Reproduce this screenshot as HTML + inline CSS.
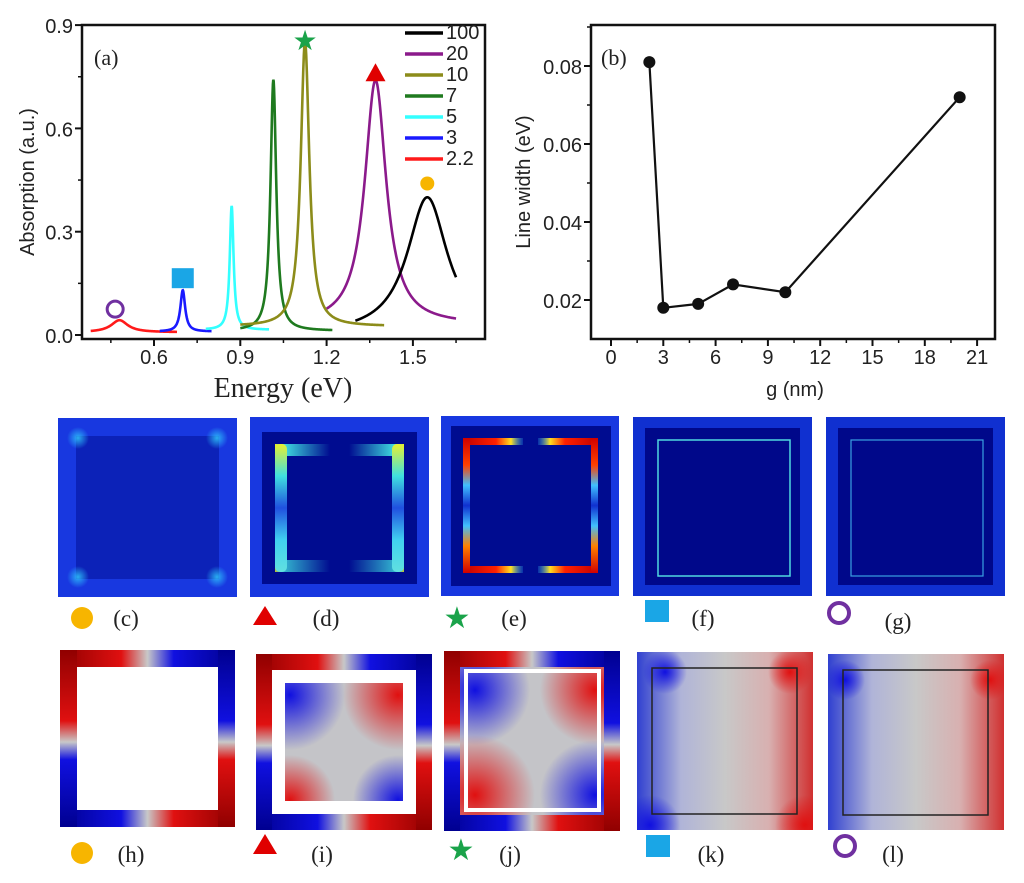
<!DOCTYPE html>
<html><head><meta charset="utf-8"><style>
body{margin:0;background:#fff;}
svg{display:block;}
.t{font-family:"Liberation Sans",sans-serif;font-size:20px;fill:#222;}
.s{font-family:"Liberation Serif",serif;fill:#222;}
</style></head><body>
<svg id="fig" width="1024" height="883" viewBox="0 0 1024 883" xmlns="http://www.w3.org/2000/svg">
<defs>
<radialGradient id="glow"><stop offset="0" stop-color="#30d0ff"/><stop offset="1" stop-color="#30d0ff" stop-opacity="0"/></radialGradient>
<linearGradient id="cyH" x1="0" x2="1"><stop offset="0" stop-color="#f0f020"/><stop offset="0.15" stop-color="#40e0e0"/><stop offset="1" stop-color="#40e0e0" stop-opacity="0"/></linearGradient>
<linearGradient id="cyHr" x1="1" x2="0"><stop offset="0" stop-color="#f0f020"/><stop offset="0.15" stop-color="#40e0e0"/><stop offset="1" stop-color="#40e0e0" stop-opacity="0"/></linearGradient>
<linearGradient id="cyV" x1="0" y1="0" x2="0" y2="1"><stop offset="0" stop-color="#e8f030"/><stop offset="0.25" stop-color="#40e0e0"/><stop offset="0.5" stop-color="#2050e0"/><stop offset="0.75" stop-color="#40d0f0"/><stop offset="1" stop-color="#60e0e0"/></linearGradient>
<linearGradient id="rdH" x1="0" x2="1"><stop offset="0" stop-color="#c00000"/><stop offset="0.55" stop-color="#ff2000"/><stop offset="0.8" stop-color="#ffe020"/><stop offset="1" stop-color="#30c0ff" stop-opacity="0.2"/></linearGradient>
<linearGradient id="rdHr" x1="1" x2="0"><stop offset="0" stop-color="#c00000"/><stop offset="0.55" stop-color="#ff2000"/><stop offset="0.8" stop-color="#ffe020"/><stop offset="1" stop-color="#30c0ff" stop-opacity="0.2"/></linearGradient>
<linearGradient id="rdV" x1="0" y1="0" x2="0" y2="1"><stop offset="0" stop-color="#d00000"/><stop offset="0.2" stop-color="#ff4000"/><stop offset="0.35" stop-color="#40c0ff"/><stop offset="0.5" stop-color="#1030d0"/><stop offset="0.65" stop-color="#40c0ff"/><stop offset="0.8" stop-color="#ff8000"/><stop offset="1" stop-color="#d00000"/></linearGradient>
<linearGradient id="rbH" x1="0" x2="1"><stop offset="0" stop-color="#900000"/><stop offset="0.35" stop-color="#e01010"/><stop offset="0.5" stop-color="#c8c8c8"/><stop offset="0.65" stop-color="#1010e0"/><stop offset="1" stop-color="#000090"/></linearGradient>
<linearGradient id="brH" x1="0" x2="1"><stop offset="0" stop-color="#000090"/><stop offset="0.35" stop-color="#1010e0"/><stop offset="0.5" stop-color="#c8c8c8"/><stop offset="0.65" stop-color="#e01010"/><stop offset="1" stop-color="#900000"/></linearGradient>
<linearGradient id="rbV" x1="0" y1="0" x2="0" y2="1"><stop offset="0" stop-color="#900000"/><stop offset="0.4" stop-color="#e01010"/><stop offset="0.52" stop-color="#c8c8c8"/><stop offset="0.62" stop-color="#1010e0"/><stop offset="1" stop-color="#000090"/></linearGradient>
<linearGradient id="brV" x1="0" y1="0" x2="0" y2="1"><stop offset="0" stop-color="#000090"/><stop offset="0.4" stop-color="#1010e0"/><stop offset="0.52" stop-color="#c8c8c8"/><stop offset="0.62" stop-color="#e01010"/><stop offset="1" stop-color="#900000"/></linearGradient>
<linearGradient id="gH" x1="0" x2="1"><stop offset="0" stop-color="#3040d0"/><stop offset="0.25" stop-color="#b0b4d8"/><stop offset="0.5" stop-color="#c8c8c8"/><stop offset="0.75" stop-color="#d8b0b0"/><stop offset="1" stop-color="#d03030"/></linearGradient>
<radialGradient id="bB"><stop offset="0" stop-color="#1010e0"/><stop offset="1" stop-color="#1010e0" stop-opacity="0"/></radialGradient>
<radialGradient id="rB"><stop offset="0" stop-color="#e01010"/><stop offset="1" stop-color="#e01010" stop-opacity="0"/></radialGradient>
<clipPath id="clipI"><rect x="285" y="683" width="118" height="118"/></clipPath>
<clipPath id="clipJ"><rect x="444" y="651" width="176" height="180"/></clipPath>
<clipPath id="clipK"><rect x="637" y="652" width="176" height="178"/></clipPath>
<clipPath id="clipL"><rect x="828" y="654" width="176" height="176"/></clipPath>
</defs>
<g id="chartA"></g>
<g id="chartB"></g>

<!-- top row field maps -->
<g>
<rect x="58" y="418" width="179" height="179" fill="#1838e0"/>
<rect x="76" y="436" width="143" height="143" fill="#0c22b8"/>
<circle cx="78" cy="438" r="11" fill="url(#glow)" opacity="0.8"/><circle cx="217" cy="438" r="11" fill="url(#glow)" opacity="0.8"/>
<circle cx="78" cy="577" r="11" fill="url(#glow)" opacity="0.8"/><circle cx="217" cy="577" r="11" fill="url(#glow)" opacity="0.8"/>
</g>
<g>
<rect x="250" y="417" width="179" height="180" fill="#1838e0"/>
<rect x="262" y="432" width="155" height="152" fill="#000c90"/>
<rect x="275" y="444" width="55" height="12" fill="url(#cyH)"/><rect x="349" y="444" width="55" height="12" fill="url(#cyHr)"/>
<rect x="275" y="560" width="55" height="12" fill="url(#cyH)" opacity="0.8"/><rect x="349" y="560" width="55" height="12" fill="url(#cyHr)" opacity="0.8"/>
<rect x="275" y="444" width="12" height="128" rx="5" fill="url(#cyV)"/><rect x="392" y="444" width="12" height="128" rx="5" fill="url(#cyV)"/>
</g>
<g>
<rect x="441" y="416" width="178" height="180" fill="#1838e0"/>
<rect x="451" y="426" width="160" height="160" fill="#000c90"/>
<rect x="463" y="438" width="60" height="7" fill="url(#rdH)"/><rect x="538" y="438" width="60" height="7" fill="url(#rdHr)"/>
<rect x="463" y="566" width="60" height="7" fill="url(#rdH)"/><rect x="538" y="566" width="60" height="7" fill="url(#rdHr)"/>
<rect x="463" y="438" width="7" height="135" fill="url(#rdV)"/><rect x="591" y="438" width="7" height="135" fill="url(#rdV)"/>
</g>
<g>
<rect x="633" y="417" width="179" height="179" fill="#1030d0"/>
<rect x="645" y="428" width="155" height="157" fill="#00088a"/>
<rect x="658" y="440" width="132" height="136" fill="none" stroke="#50d8e0" stroke-width="1.5"/>
</g>
<g>
<rect x="826" y="417" width="179" height="179" fill="#1030d0"/>
<rect x="838" y="428" width="155" height="157" fill="#00088a"/>
<rect x="851" y="440" width="132" height="136" fill="none" stroke="#3aa0e0" stroke-width="1.2"/>
</g>

<!-- bottom row charge maps -->
<g>
<rect x="60" y="650" width="175" height="17" fill="url(#rbH)"/>
<rect x="60" y="810" width="175" height="17" fill="url(#brH)"/>
<rect x="60" y="650" width="17" height="177" fill="url(#rbV)"/>
<rect x="218" y="650" width="17" height="177" fill="url(#brV)"/>
</g>
<g>
<rect x="256" y="654" width="176" height="16" fill="url(#rbH)"/>
<rect x="256" y="814" width="176" height="16" fill="url(#brH)"/>
<rect x="256" y="654" width="16" height="176" fill="url(#rbV)"/>
<rect x="416" y="654" width="16" height="176" fill="url(#brV)"/>
<rect x="285" y="683" width="118" height="118" fill="#c4c4c8"/>
<g clip-path="url(#clipI)">
<circle cx="290" cy="695" r="55" fill="url(#bB)"/><circle cx="398" cy="695" r="55" fill="url(#rB)"/>
<circle cx="290" cy="800" r="45" fill="url(#rB)"/><circle cx="398" cy="800" r="45" fill="url(#bB)"/>
</g>
</g>
<g>
<g clip-path="url(#clipJ)">
<rect x="444" y="651" width="176" height="180" fill="#c4c4c8"/>
<circle cx="475" cy="690" r="55" fill="url(#bB)"/><circle cx="595" cy="690" r="55" fill="url(#rB)"/>
<circle cx="475" cy="795" r="60" fill="url(#rB)"/><circle cx="595" cy="795" r="55" fill="url(#bB)"/>
</g>
<rect x="444" y="651" width="176" height="16" fill="url(#rbH)"/>
<rect x="444" y="815" width="176" height="16" fill="url(#brH)"/>
<rect x="444" y="651" width="16" height="180" fill="url(#rbV)"/>
<rect x="604" y="651" width="16" height="180" fill="url(#brV)"/>
<rect x="466" y="671" width="133" height="139" fill="none" stroke="#fff" stroke-width="4"/>
</g>
<g>
<rect x="637" y="652" width="176" height="178" fill="url(#gH)"/>
<g clip-path="url(#clipK)">
<circle cx="650" cy="825" r="30" fill="url(#bB)"/><circle cx="805" cy="825" r="30" fill="url(#rB)"/>
<circle cx="665" cy="672" r="22" fill="url(#bB)"/><circle cx="790" cy="672" r="22" fill="url(#rB)"/>
</g>
<rect x="652" y="668" width="145" height="146" fill="none" stroke="#222" stroke-width="1.5"/>
</g>
<g>
<rect x="828" y="654" width="176" height="176" fill="url(#gH)"/>
<g clip-path="url(#clipL)">
<circle cx="845" cy="680" r="20" fill="url(#bB)"/><circle cx="990" cy="680" r="20" fill="url(#rB)"/>
</g>
<rect x="843" y="670" width="145" height="145" fill="none" stroke="#222" stroke-width="1.5"/>
</g>

<!-- panel labels with markers -->
<circle cx="82" cy="618" r="11" fill="#f7b500"/>
<text class="s" x="126" y="626" font-size="23" text-anchor="middle">(c)</text>
<polygon points="265,606 277,625 253,625" fill="#e00000"/>
<text class="s" x="326" y="626" font-size="23" text-anchor="middle">(d)</text>
<text x="457" y="628" font-size="30" fill="#1aa34a" text-anchor="middle" font-family="DejaVu Sans">★</text>
<text class="s" x="514" y="626" font-size="23" text-anchor="middle">(e)</text>
<rect x="645" y="600" width="24" height="22" fill="#1aa6e6"/>
<text class="s" x="703" y="626" font-size="23" text-anchor="middle">(f)</text>
<circle cx="839" cy="613" r="10" fill="none" stroke="#7030a0" stroke-width="4"/>
<text class="s" x="898" y="629" font-size="23" text-anchor="middle">(g)</text>
<circle cx="82" cy="853" r="11" fill="#f7b500"/>
<text class="s" x="131" y="862" font-size="23" text-anchor="middle">(h)</text>
<polygon points="265,834 277,854 253,854" fill="#e00000"/>
<text class="s" x="322" y="862" font-size="23" text-anchor="middle">(i)</text>
<text x="461" y="860" font-size="30" fill="#1aa34a" text-anchor="middle" font-family="DejaVu Sans">★</text>
<text class="s" x="510" y="862" font-size="23" text-anchor="middle">(j)</text>
<rect x="646" y="835" width="24" height="22" fill="#1aa6e6"/>
<text class="s" x="711" y="862" font-size="23" text-anchor="middle">(k)</text>
<circle cx="845" cy="846" r="10" fill="none" stroke="#7030a0" stroke-width="4"/>
<text class="s" x="893" y="862" font-size="23" text-anchor="middle">(l)</text>
</svg>
<script>
// ---- Panel (a) data ----
const gapLabels = ["100","20","10","7","5","3","2.2"];
const colors = ["#000000","#8b1a8b","#8c8c1a","#1f7a1f","#33ffff","#1a1aff","#ff1a1a"];
const peakE = [1.55, 1.37, 1.125, 1.015, 0.87, 0.70, 0.48];
const peakA = [0.40, 0.71, 0.83, 0.73, 0.36, 0.12, 0.035];
const halfW = [0.085, 0.045, 0.018, 0.012, 0.008, 0.010, 0.035];
const baseA = [0.0, 0.03, 0.025, 0.012, 0.015, 0.01, 0.008];
const startE = [1.30, 1.20, 0.90, 0.90, 0.78, 0.62, 0.38];
const endE = [1.65, 1.65, 1.40, 1.22, 1.00, 0.80, 0.68];
const xTicksA = [0.6, 0.9, 1.2, 1.5];
const yTicksA = [0.0, 0.3, 0.6, 0.9];
// ---- Panel (b) data ----
const gapNm = [2.2, 3, 5, 7, 10, 20];
const lineWidth = [0.081, 0.018, 0.019, 0.024, 0.022, 0.072];
const xTicksB = [0, 3, 6, 9, 12, 15, 18, 21];
const yTicksB = [0.02, 0.04, 0.06, 0.08];

const NS = "http://www.w3.org/2000/svg";
function mk(parent, tag, attrs, text) {
  const e = document.createElementNS(NS, tag);
  for (const k in attrs) e.setAttribute(k, attrs[k]);
  if (text !== undefined) e.textContent = text;
  parent.appendChild(e);
  return e;
}
const xA = e => 154 + (e - 0.6) / 0.3 * 86.3;
const yA = v => 335 - v / 0.3 * 103.3;
const xB = g => 611 + g / 3 * 52.3;
const yB = v => 300 - (v - 0.02) / 0.02 * 78;

// Panel (a)
const A = document.getElementById('chartA');
let r = mk(A, 'rect', {x:82, y:25, width:403, height:314, fill:'none', stroke:'#111', 'stroke-width':2.5});


for (let i = 0; i < xTicksA.length; i++) {
  const x = xA(xTicksA[i]);
  mk(A, 'line', {x1:x, y1:339, x2:x, y2:346, stroke:'#111', 'stroke-width':2});
  const t = mk(A, 'text', {x:x, y:364, class:'t', 'text-anchor':'middle', 'font-size':22}, xTicksA[i].toFixed(1));
  
  
  const m = xA(xTicksA[i] - 0.15);
  mk(A, 'line', {x1:m, y1:339, x2:m, y2:343, stroke:'#111', 'stroke-width':1.5});
}
mk(A, 'line', {x1:xA(1.65), y1:339, x2:xA(1.65), y2:343, stroke:'#111', 'stroke-width':1.5});
for (let i = 0; i < yTicksA.length; i++) {
  const y = yA(yTicksA[i]);
  mk(A, 'line', {x1:75, y1:y, x2:82, y2:y, stroke:'#111', 'stroke-width':2});
  const t = mk(A, 'text', {x:73, y:y + 8, class:'t', 'text-anchor':'end', 'font-size':22}, yTicksA[i].toFixed(1));
  
  
  if (i > 0) { const m = yA(yTicksA[i] - 0.15); mk(A, 'line', {x1:78, y1:m, x2:82, y2:m, stroke:'#111', 'stroke-width':1.5}); }
}
let tt = mk(A, 'text', {x:0, y:0, class:'t', 'text-anchor':'middle', 'font-size':21, transform:'translate(34,182) rotate(-90)'}, 'Absorption (a.u.)');


tt = mk(A, 'text', {x:283, y:397, class:'s', 'text-anchor':'middle', 'font-size':28}, 'Energy (eV)');


tt = mk(A, 'text', {x:94, y:65, class:'s', 'font-size':22}, '(a)');


for (let i = gapLabels.length - 1; i >= 0; i--) {
  let d = '';
  const N = 240;
  for (let k = 0; k <= N; k++) {
    const e = startE[i] + (endE[i] - startE[i]) * k / N;
    const w2 = halfW[i] * halfW[i];
    const v = baseA[i] + peakA[i] * w2 / ((e - peakE[i]) ** 2 + w2);
    d += (k ? 'L' : 'M') + xA(e).toFixed(2) + ',' + yA(v).toFixed(2);
  }
  const p = mk(A, 'path', {d:d, fill:'none', stroke:colors[i], 'stroke-width':2.6});
  
  
}
for (let i = 0; i < gapLabels.length; i++) {
  const y = 33 + i * 21;
  const l = mk(A, 'line', {x1:405, y1:y, x2:443, y2:y, stroke:colors[i], 'stroke-width':3.5});
  
  
  const t = mk(A, 'text', {x:446, y:y + 6, class:'t', 'font-size':16}, gapLabels[i]);
  
  
}
// peak markers
let mm = mk(A, 'circle', {cx:xA(0.465), cy:yA(0.075), r:8, fill:'none', stroke:'#7030a0', 'stroke-width':3});
 
mm = mk(A, 'rect', {x:xA(0.70) - 11, y:yA(0.165) - 10, width:22, height:20, fill:'#1aa6e6'});
 
mm = mk(A, 'text', {x:xA(1.125), y:yA(0.86) + 11, 'font-size':28, fill:'#1aa34a', 'text-anchor':'middle', 'font-family':'DejaVu Sans'}, '★');
 
const tx = xA(1.37), ty = yA(0.76);
mm = mk(A, 'polygon', {points:`${tx},${ty-10} ${tx+10},${ty+8} ${tx-10},${ty+8}`, fill:'#e00000'});
 
mm = mk(A, 'circle', {cx:xA(1.55), cy:yA(0.44), r:7, fill:'#f7b500'});
 

// Panel (b)
const B = document.getElementById('chartB');
r = mk(B, 'rect', {x:591, y:25, width:404, height:314, fill:'none', stroke:'#111', 'stroke-width':2.5});


for (let i = 0; i < xTicksB.length; i++) {
  const x = xB(xTicksB[i]);
  mk(B, 'line', {x1:x, y1:339, x2:x, y2:346, stroke:'#111', 'stroke-width':2});
  const t = mk(B, 'text', {x:x, y:364, class:'t', 'text-anchor':'middle', 'font-size':22}, String(xTicksB[i]));
  
  
  if (i < xTicksB.length - 1) { const m = xB(xTicksB[i] + 1.5); mk(B, 'line', {x1:m, y1:339, x2:m, y2:343, stroke:'#111', 'stroke-width':1.5}); }
}
for (let i = 0; i < yTicksB.length; i++) {
  const y = yB(yTicksB[i]);
  mk(B, 'line', {x1:584, y1:y, x2:591, y2:y, stroke:'#111', 'stroke-width':2});
  const t = mk(B, 'text', {x:582, y:y + 8, class:'t', 'text-anchor':'end', 'font-size':22}, yTicksB[i].toFixed(2));
  
  
  const m = yB(yTicksB[i] + 0.01); mk(B, 'line', {x1:587, y1:m, x2:591, y2:m, stroke:'#111', 'stroke-width':1.5});
}
tt = mk(B, 'text', {x:0, y:0, class:'t', 'text-anchor':'middle', 'font-size':21, transform:'translate(530,182) rotate(-90)'}, 'Line width (eV)');


tt = mk(B, 'text', {x:795, y:396, class:'t', 'text-anchor':'middle', 'font-size':21}, 'g (nm)');


tt = mk(B, 'text', {x:601, y:65, class:'s', 'font-size':22}, '(b)');


let dB = '';
for (let i = 0; i < gapNm.length; i++) dB += (i ? 'L' : 'M') + xB(gapNm[i]) + ',' + yB(lineWidth[i]);
const lp = mk(B, 'path', {d:dB, fill:'none', stroke:'#111', 'stroke-width':2.2});


for (let i = 0; i < gapNm.length; i++) {
  const c = mk(B, 'circle', {cx:xB(gapNm[i]), cy:yB(lineWidth[i]), r:6, fill:'#111'});
  
  
}
</script>
</body></html>
